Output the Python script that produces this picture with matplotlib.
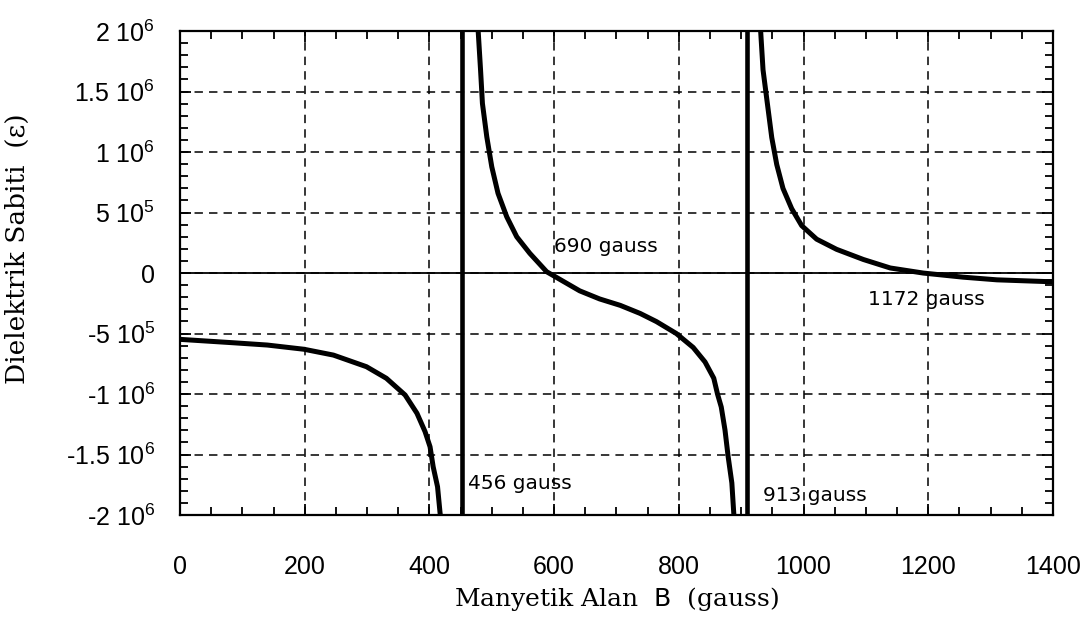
import matplotlib
matplotlib.use('Agg')
import matplotlib.pyplot as plt
from matplotlib.ticker import MultipleLocator, FixedLocator, FixedFormatter

# values
b_branch1 = [0, 85, 140, 199, 246, 299, 331, 361, 380, 393, 401, 406, 413, 417, 420]
eps_branch1 = [-5.48e5, -5.76e5, -5.95e5, -6.30e5, -6.78e5, -7.74e5, -8.70e5, -1.008e6,
               -1.159e6, -1.311e6, -1.436e6, -1.601e6, -1.766e6, -1.98e6, -2.1e6]

b_branch2 = [477, 482, 485, 492, 500, 510, 524, 540, 561, 588, 641, 673, 706, 738,
             764, 796, 823, 842, 856, 862, 868, 874, 879, 885, 888, 890]
eps_branch2 = [2.1e6, 1.678e6, 1.402e6, 1.126e6, 8.78e5, 6.59e5, 4.65e5, 3.0e5, 1.63e5,
               1.1e4, -1.47e5, -2.14e5, -2.67e5, -3.34e5, -4.01e5, -5.0e5, -6.15e5,
               -7.35e5, -8.69e5, -1.0e6, -1.107e6, -1.297e6, -1.515e6, -1.735e6,
               -1.98e6, -2.1e6]

b_branch3 = [930, 935, 942, 949, 957, 967, 981, 997, 1021, 1053, 1096, 1139, 1192,
             1256, 1310, 1387, 1400]
eps_branch3 = [2.1e6, 1.68e6, 1.40e6, 1.12e6, 8.97e5, 7.0e5, 5.32e5, 3.92e5, 2.8e5,
               1.96e5, 1.12e5, 4.2e4, 0, -3.4e4, -5.6e4, -7.0e4, -7.0e4]

b_poles = [452, 909]

y_ticks = [2e6, 1.5e6, 1e6, 5e5, 0, -5e5, -1e6, -1.5e6, -2e6]
y_labels = ['2 10$^{6}$', '1.5 10$^{6}$', '1 10$^{6}$', '5 10$^{5}$', '0',
            '-5 10$^{5}$', '-1 10$^{6}$', '-1.5 10$^{6}$', '-2 10$^{6}$']
x_ticks = [0, 200, 400, 600, 800, 1000, 1200, 1400]

note_texts = ['456 gauss', '690 gauss', '913 gauss', '1172 gauss']
note_b = [462, 600, 935, 1103]
note_eps = [-1.74e6, 2.2e5, -1.84e6, -2.2e5]

plt.rcParams['font.family'] = ['Liberation Sans', 'DejaVu Sans']
plt.rcParams['mathtext.default'] = 'regular'

fig = plt.figure(figsize=(10.87, 6.22), dpi=100)
ax = fig.add_axes([0.1656, 0.172, 0.8031, 0.778])

ax.plot(b_branch1, eps_branch1, color='black', lw=3.6, solid_capstyle='butt')
ax.plot(b_branch2, eps_branch2, color='black', lw=3.6, solid_capstyle='butt')
ax.plot(b_branch3, eps_branch3, color='black', lw=3.6, solid_capstyle='butt')
for b in b_poles:
    ax.axvline(b, color='black', lw=3.3)
ax.axhline(0, color='black', lw=1.3)

ax.set_xlim(0, 1400)
ax.set_ylim(-2e6, 2e6)

ax.xaxis.set_major_locator(FixedLocator(x_ticks))
ax.xaxis.set_minor_locator(MultipleLocator(50))
ax.yaxis.set_major_locator(FixedLocator(y_ticks))
ax.yaxis.set_major_formatter(FixedFormatter(y_labels))
ax.yaxis.set_minor_locator(MultipleLocator(1e5))

ax.grid(True, which='major', color='black', lw=1.1, linestyle=(0, (5.5, 4)))
ax.tick_params(which='both', direction='in', top=True, right=True, width=1.3, colors='black')
ax.tick_params(which='major', length=8)
ax.tick_params(which='minor', length=6)
ax.tick_params(axis='x', which='major', pad=29, labelsize=18)
ax.tick_params(axis='y', which='major', pad=18, labelsize=18)
for s in ax.spines.values():
    s.set_linewidth(1.6)

for t, b, e in zip(note_texts, note_b, note_eps):
    ax.text(b, e, t, fontsize=14.5, family='DejaVu Sans', va='center', ha='left')

ax.set_xlabel(r'Manyetik Alan  $\mathsf{B}$  (gauss)', family='DejaVu Serif', fontsize=18, labelpad=4)
ax.set_ylabel(r'Dielektrik Sabiti  (ε)', family='DejaVu Serif', fontsize=19)
ax.yaxis.set_label_coords(-0.172, 0.55)

fig.savefig('out.png', dpi=100)
